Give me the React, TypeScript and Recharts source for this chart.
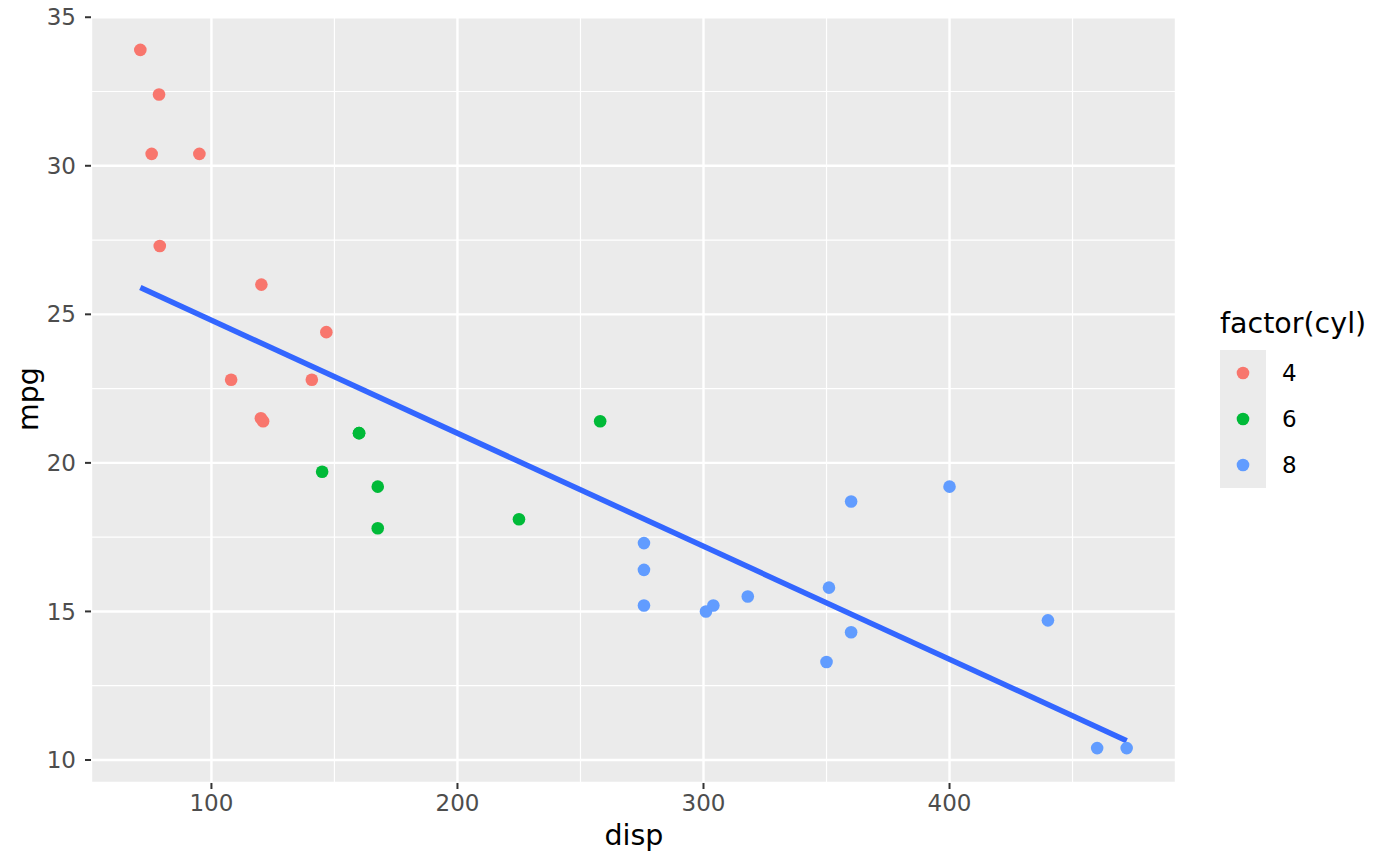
import { CartesianGrid, ReferenceLine, Scatter, ScatterChart, XAxis, YAxis } from "recharts";

// mtcars: displacement vs mpg, grouped by cylinders
const disp4 = [108, 146.7, 140.8, 78.7, 75.7, 71.1, 120.1, 79, 120.3, 95.1, 121];
const mpg4 = [22.8, 24.4, 22.8, 32.4, 30.4, 33.9, 21.5, 27.3, 26.0, 30.4, 21.4];
const disp6 = [160, 160, 258, 225, 167.6, 167.6, 145];
const mpg6 = [21.0, 21.0, 21.4, 18.1, 19.2, 17.8, 19.7];
const disp8 = [360, 360, 275.8, 275.8, 275.8, 472, 460, 440, 318, 304, 350, 400, 351, 301];
const mpg8 = [18.7, 14.3, 16.4, 17.3, 15.2, 10.4, 10.4, 14.7, 15.5, 15.2, 13.3, 19.2, 15.8, 15.0];

// fitted line ends
const fitDisp = [71.1, 472];
const fitMpg = [25.9, 10.65];

const xTicks = [100, 200, 300, 400];
const xMinor = [150, 250, 350, 450];
const yTicks = [10, 15, 20, 25, 30, 35];
const yMinor = [12.5, 17.5, 22.5, 27.5, 32.5];

const groups = ["4", "6", "8"];
const colors = ["#F8766D", "#00BA38", "#619CFF"];

const toPoints = (xs: number[], ys: number[]) => xs.map((x, i) => ({ disp: x, mpg: ys[i] }));
const series = [toPoints(disp4, mpg4), toPoints(disp6, mpg6), toPoints(disp8, mpg8)];
const fitSegment = fitDisp.map((x, i) => ({ x, y: fitMpg[i] }));

const FONT = "'DejaVu Sans', sans-serif";
const tickStyle = { fill: "#4D4D4D", fontSize: 23, fontFamily: FONT };

const dot = (color: string) => (props: any) => (
  <circle cx={props.cx} cy={props.cy} r={6.3} fill={color} />
);

export default function App() {
  return (
    <div style={{ position: "absolute", left: 0, top: 0, width: 1400, height: 866, background: "#fff" }}>
      <ScatterChart width={1400} height={866} margin={{ top: 15, right: 224, bottom: 0, left: 0 }}>
        <CartesianGrid fill="#EBEBEB" stroke="#FFFFFF" strokeWidth={2.4} />
        {xMinor.map((v) => (
          <ReferenceLine key={"x" + v} x={v} stroke="#FFFFFF" strokeWidth={1.2} />
        ))}
        {yMinor.map((v) => (
          <ReferenceLine key={"y" + v} y={v} stroke="#FFFFFF" strokeWidth={1.2} />
        ))}
        <XAxis
          type="number"
          dataKey="disp"
          domain={[51.05, 492.05]}
          allowDataOverflow
          ticks={xTicks}
          height={83}
          axisLine={false}
          tickLine={{ stroke: "#333333", strokeWidth: 2 }}
          tickSize={6}
          tickMargin={6}
          tick={tickStyle}
        />
        <YAxis
          type="number"
          dataKey="mpg"
          domain={[9.225, 35.075]}
          allowDataOverflow
          ticks={yTicks}
          width={91}
          axisLine={false}
          tickLine={{ stroke: "#333333", strokeWidth: 2 }}
          tickSize={6}
          tickMargin={9}
          tick={tickStyle}
        />
        {series.map((d, i) => (
          <Scatter key={groups[i]} data={d} shape={dot(colors[i])} isAnimationActive={false} />
        ))}
        {/* lm fit drawn over the points, as in ggplot's layer order */}
        <ReferenceLine segment={fitSegment} stroke="#3366FF" strokeWidth={5.5} />
      </ScatterChart>
      <svg width={1400} height={866} style={{ position: "absolute", left: 0, top: 0, pointerEvents: "none" }}>
        <text x={634} y={845} textAnchor="middle" fontSize={28.5} fontFamily={FONT} fill="#000">
          disp
        </text>
        <text
          x={38}
          y={399}
          textAnchor="middle"
          fontSize={28.5}
          fontFamily={FONT}
          fill="#000"
          transform="rotate(-90 38 399)"
        >
          mpg
        </text>
        <text x={1220} y={333} fontSize={28.5} fontFamily={FONT} fill="#000">
          factor(cyl)
        </text>
        <rect x={1220} y={350} width={46} height={138} fill="#EBEBEB" />
        {groups.map((g, i) => (
          <g key={g}>
            <circle cx={1243} cy={373 + i * 46} r={6.3} fill={colors[i]} />
            <text x={1282} y={373 + i * 46} dy="0.36em" fontSize={23} fontFamily={FONT} fill="#000">
              {g}
            </text>
          </g>
        ))}
      </svg>
    </div>
  );
}
